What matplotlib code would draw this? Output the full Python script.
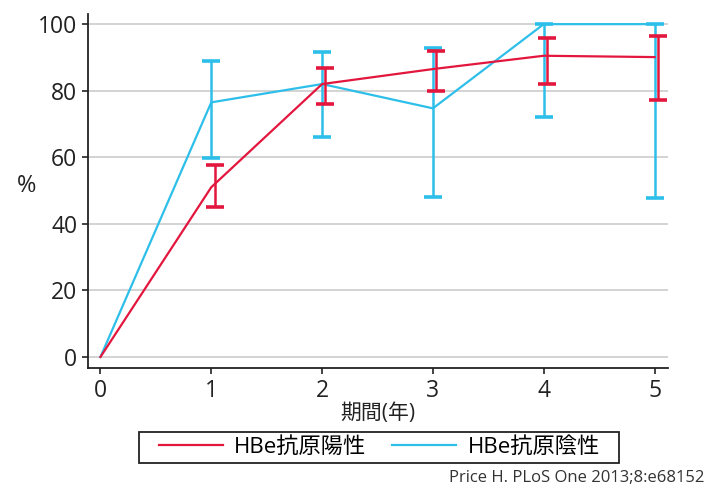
import matplotlib
matplotlib.use("Agg")
import matplotlib.pyplot as plt
from matplotlib.patches import Rectangle
import numpy as np

plt.rcParams['font.family'] = ['Open Sans', 'Noto Sans CJK JP', 'DejaVu Sans']

# data (years, % values, 95% CI bounds)
years = [0, 1, 2, 3, 4, 5]
pos_mean = [0, 51, 82, 86.5, 90.5, 90.1]
pos_low = [0, 45, 76, 80, 82, 77.2]
pos_high = [0, 57.6, 86.8, 92, 95.8, 96.5]
neg_mean = [0, 76.5, 82, 74.7, 100, 100]
neg_low = [0, 59.8, 66, 48, 72, 47.7]
neg_high = [0, 88.9, 91.7, 92.8, 100, 100]
labels = ['HBe抗原陽性', 'HBe抗原陰性']
red = '#e3173e'
blue = '#2dbfe9'

fig = plt.figure(figsize=(7.06, 4.88), dpi=100)
ax = fig.add_axes([0.125, 0.246, 0.821, 0.725])

x = np.array(years[1:], dtype=float)

# blue series
ax.plot(years, neg_mean, color=blue, lw=1.6, zorder=3, label=labels[1])
nm = np.array(neg_mean[1:])
ax.errorbar(x, nm, yerr=[nm - np.array(neg_low[1:]), np.array(neg_high[1:]) - nm],
            fmt='none', ecolor=blue, elinewidth=1.8, capsize=6.5, capthick=2.6, zorder=3)

# red series
ax.plot(years, pos_mean, color=red, lw=1.6, zorder=4, label=labels[0])
pm = np.array(pos_mean[1:])
ax.errorbar(x + 0.03, pm, yerr=[pm - np.array(pos_low[1:]), np.array(pos_high[1:]) - pm],
            fmt='none', ecolor=red, elinewidth=1.8, capsize=6.5, capthick=2.6, zorder=4)

ax.set_xlim(-0.11, 5.12)
ax.set_ylim(-3.3, 103)
ax.set_yticks([0, 20, 40, 60, 80, 100])
ax.set_xticks(years)
ax.yaxis.grid(True, color='#cccccc', lw=1.2)
ax.set_axisbelow(True)
for s in ['top', 'right']:
    ax.spines[s].set_visible(False)
for s in ['left', 'bottom']:
    ax.spines[s].set_color('#222222')
    ax.spines[s].set_linewidth(1.3)
ax.tick_params(axis='both', direction='out', length=4, width=1.2, color='#222222',
               labelsize=16.5, labelcolor='#222222', pad=4)
ax.set_xlabel('期間(年)', fontsize=15, color='#222222', labelpad=0)
ax.set_ylabel('%', fontsize=17, rotation=0, color='#222222', va='center', ha='center')
ax.yaxis.set_label_coords(-0.107, 0.515)

handles, lbls = ax.get_legend_handles_labels()
order = [1, 0]
leg = fig.legend([handles[i] for i in order], [lbls[i] for i in order],
                 loc='center', bbox_to_anchor=(0.537, 0.083), ncol=2,
                 fontsize=16, handlelength=2.9, columnspacing=1.15,
                 frameon=False, handletextpad=0.5, borderaxespad=0)
# legend box is wider than the entries, drawn separately
fig.patches.append(Rectangle((0.197, 0.0512), 0.680, 0.0635, transform=fig.transFigure,
                             fill=False, edgecolor='#222222', lw=1.3))

fig.text(0.997, 0.0205, 'Price H. PLoS One 2013;8:e68152', ha='right', va='center',
         fontsize=12, color='#333333')

fig.savefig('out.png', dpi=100)
